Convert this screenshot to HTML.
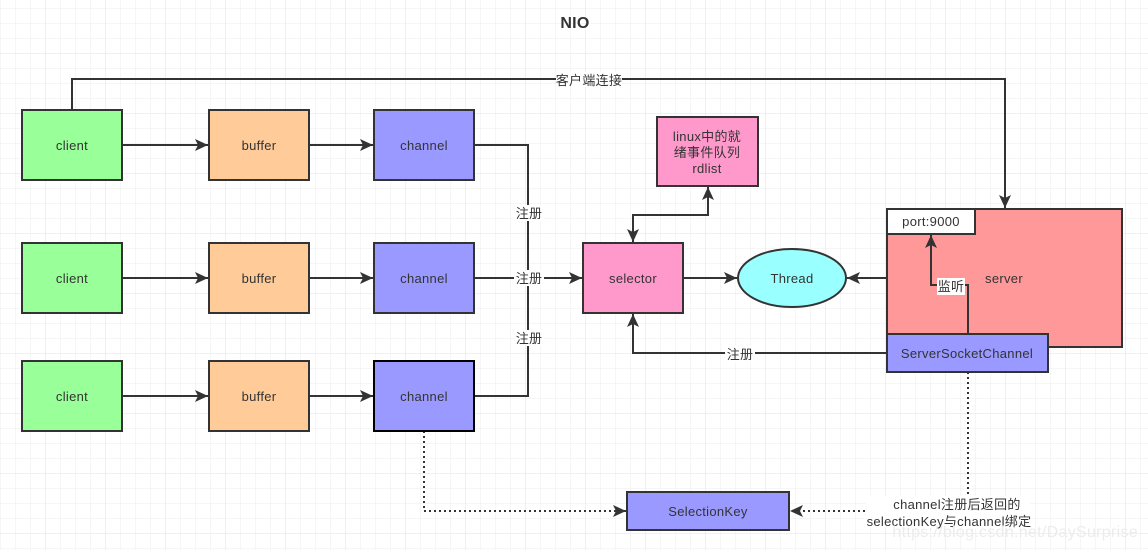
<!DOCTYPE html>
<html><head><meta charset="utf-8"><style>
html,body{margin:0;padding:0;background:#fff;}
svg{display:block;}
text{font-family:"Liberation Sans","Noto Sans CJK SC",sans-serif;font-size:13px;fill:#333;letter-spacing:0.3px;}
</style></head><body>
<svg width="1148" height="550" viewBox="0 0 1148 550" xmlns="http://www.w3.org/2000/svg">
<defs>
<pattern id="g" width="15" height="15" patternUnits="userSpaceOnUse" x="0" y="8">
<path d="M0 0H15M0 0V15" stroke="#ececec" stroke-width="1" fill="none"/>
</pattern>
<pattern id="G" width="60" height="60" patternUnits="userSpaceOnUse" x="45" y="53">
<path d="M0 0H60M0 0V60" stroke="#e2e2e2" stroke-width="1" fill="none"/>
</pattern>
<marker id="a" markerWidth="14" markerHeight="12" refX="13" refY="6" orient="auto" markerUnits="userSpaceOnUse">
<path d="M0 0L13 6L0 12L3 6Z" fill="#333"/>
</marker>
</defs>
<rect width="1148" height="550" fill="url(#g)"/>
<rect width="1148" height="550" fill="url(#G)"/>
<text x="575" y="28" text-anchor="middle" style="font-size:16px;font-weight:bold">NIO</text>

<g stroke="#333" stroke-width="2" fill="none">
<path d="M72 110V79H1005V208" marker-end="url(#a)"/>
<path d="M122 145H208" marker-end="url(#a)"/>
<path d="M122 278H208" marker-end="url(#a)"/>
<path d="M122 396H208" marker-end="url(#a)"/>
<path d="M309 145H373" marker-end="url(#a)"/>
<path d="M309 278H373" marker-end="url(#a)"/>
<path d="M309 396H373" marker-end="url(#a)"/>
<path d="M474 145H528V396H474"/>
<path d="M474 278H582" marker-end="url(#a)"/>
<path d="M633 215H708V187" marker-end="url(#a)"/>
<path d="M708 215H633V242" marker-end="url(#a)"/>
<path d="M683 278H737" marker-end="url(#a)"/>
<path d="M887 278H847" marker-end="url(#a)"/>
<path d="M887 353H633V314" marker-end="url(#a)"/>
</g>
<g stroke="#333" stroke-width="2" fill="none" stroke-dasharray="2,3">
<path d="M968 372V500"/>
<path d="M880 511H790" marker-end="url(#a)"/>
<path d="M424 431V511H626" marker-end="url(#a)"/>
</g>

<g stroke="#333" stroke-width="2">
<rect x="22" y="110" width="100" height="70" fill="#99ff99"/>
<rect x="22" y="243" width="100" height="70" fill="#99ff99"/>
<rect x="22" y="361" width="100" height="70" fill="#99ff99"/>
<rect x="209" y="110" width="100" height="70" fill="#ffcc99"/>
<rect x="209" y="243" width="100" height="70" fill="#ffcc99"/>
<rect x="209" y="361" width="100" height="70" fill="#ffcc99"/>
<rect x="374" y="110" width="100" height="70" fill="#9999ff"/>
<rect x="374" y="243" width="100" height="70" fill="#9999ff"/>
<rect x="374" y="361" width="100" height="70" fill="#9999ff" stroke="#000"/>
<rect x="583" y="243" width="100" height="70" fill="#ff99cc"/>
<rect x="657" y="117" width="101" height="69" fill="#ff99cc"/>
<ellipse cx="792" cy="278" rx="54" ry="29" fill="#99ffff"/>
<rect x="887" y="209" width="235" height="138" fill="#ff9999"/>
<rect x="887" y="209" width="88" height="25" fill="#fff"/>
<rect x="887" y="334" width="161" height="38" fill="#9999ff"/>
<rect x="627" y="492" width="162" height="38" fill="#9999ff"/>
</g>
<path d="M968 334V285H931V235" stroke="#333" stroke-width="2" fill="none" marker-end="url(#a)"/>

<g text-anchor="middle">
<text x="72" y="150">client</text><text x="72" y="283">client</text><text x="72" y="401">client</text>
<text x="259" y="150">buffer</text><text x="259" y="283">buffer</text><text x="259" y="401">buffer</text>
<text x="424" y="150">channel</text><text x="424" y="283">channel</text><text x="424" y="401">channel</text>
<text x="633" y="283">selector</text>
<text x="707" y="141">linux中的就</text><text x="707" y="157">绪事件队列</text><text x="707" y="173">rdlist</text>
<text x="792" y="283">Thread</text>
<text x="931" y="226">port:9000</text>
<text x="1004" y="283">server</text>
<text x="967" y="358">ServerSocketChannel</text>
<text x="708" y="516">SelectionKey</text>
</g>
<g>
<rect x="556" y="72" width="66" height="15" fill="#fff"/>
<text x="589" y="85" text-anchor="middle">客户端连接</text>
<rect x="514" y="205" width="30" height="16" fill="#fff"/>
<text x="529" y="218" text-anchor="middle">注册</text>
<rect x="514" y="270" width="30" height="16" fill="#fff"/>
<text x="529" y="283" text-anchor="middle">注册</text>
<rect x="514" y="330" width="30" height="16" fill="#fff"/>
<text x="529" y="343" text-anchor="middle">注册</text>
<rect x="725" y="346" width="30" height="16" fill="#fff"/>
<text x="740" y="359" text-anchor="middle">注册</text>
<rect x="937" y="278" width="28" height="17" fill="#fff"/>
<text x="951" y="291" text-anchor="middle">监听</text>
<rect x="866" y="496" width="164" height="32" fill="#fff"/>
<text x="957" y="509" text-anchor="middle">channel注册后返回的</text>
<text x="949" y="526" text-anchor="middle">selectionKey与channel绑定</text>
<text x="1138" y="537" text-anchor="end" style="font-size:16px;fill:#ececec">https://blog.csdn.net/DaySurprise</text>
</g>
</svg>
</body></html>
